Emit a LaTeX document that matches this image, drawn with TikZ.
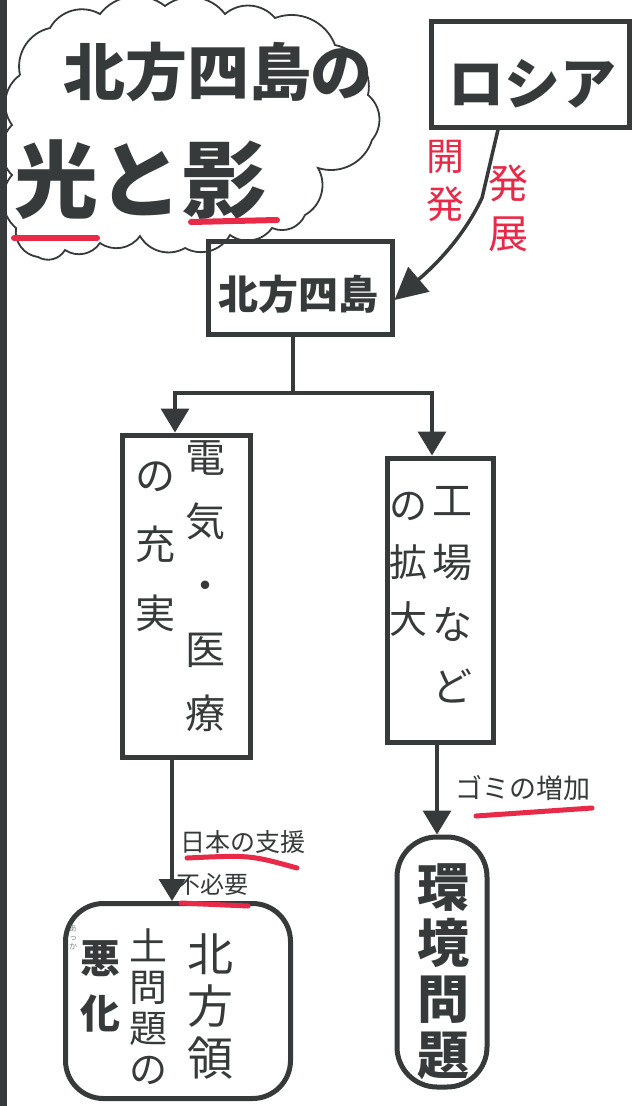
\documentclass[tikz,border=0pt]{standalone}
\usepackage{fontspec}
\newfontfamily\jp{Noto Sans CJK JP}
\usetikzlibrary{arrows.meta}
\definecolor{ink}{RGB}{55,58,58}
\definecolor{redpen}{RGB}{232,42,72}
\newcommand\fsz[2]{\fontsize{#1pt}{#2pt}\selectfont}
\begin{document}
\begin{tikzpicture}[x=1pt,y=-1pt,
  box/.style={draw=ink, line width=5pt, inner sep=0pt},
  conn/.style={draw=ink, line width=3.5pt},
  arr/.style={conn, -{Triangle[length=24pt,width=28pt]}},
  txt/.style={text=ink, inner sep=0pt, align=center},
  redtxt/.style={text=redpen, inner sep=0pt, align=center},
  uline/.style={draw=redpen, line width=5pt, line cap=round},
]
\useasboundingbox (0,0) rectangle (634,1106);
\fill[white] (0,0) rectangle (634,1106);
\fill[ink] (0,0) rectangle (7,1106);

% cloud
\draw[ink, line width=1.8pt]
  (20,75) to[bend left=45] (50,28) to[bend left=45] (100,14)
  to[bend left=45] (165,6) to[bend left=45] (225,14)
  to[bend left=45] (275,18) to[bend left=45] (335,45)
  to[bend left=45] (368,95) to[bend left=45] (372,140)
  to[bend left=45] (318,168) to[bend left=45] (305,215)
  to[bend left=45] (272,228) to[bend left=45] (230,235)
  to[bend left=45] (185,248) to[bend left=45] (140,236)
  to[bend left=45] (100,243) to[bend left=45] (65,250)
  to[bend left=45] (38,257) to[bend left=45] (16,228)
  to[bend left=45] (12,175) to[bend left=45] (12,125)
  to[bend left=45] (20,75);
\node[txt, font=\jp\bfseries\fsz{62}{70}] (title1) at (218,72) {北方四島の};
\node[txt, font=\jp\bfseries\fsz{84}{90}] (title2) at (140,180) {光と影};
\draw[uline, line width=6pt] (14,238) -- (97,238);
\draw[uline, line width=6pt] (191,222) -- (277,220);

% Russia
\node[box, minimum width=198pt, minimum height=106pt] (russia) at (530,74) {};
\node[txt, font=\jp\bfseries\fsz{56}{60}] (russiaT) at (532,84) {ロシア};

% Hoppo box
\node[box, minimum width=184pt, minimum height=93pt] (hoppo) at (300,288) {};
\node[txt, font=\jp\bfseries\fsz{40}{44}] (hoppoT) at (298,294) {北方四島};

% arrow Russia -> Hoppo
\draw[arr, -{Triangle[length=32pt,width=32pt]}]
  ([xshift=-32pt]russia.south) -- (482,198)
  .. controls (462,240) and (432,268) .. ([yshift=-12pt]hoppo.east);
\node[redtxt, font=\jp\fsz{38}{48}] (kaihatsu) at (445,181) {開\\発};
\node[redtxt, font=\jp\fsz{40}{50}] (hatten) at (508,208) {発\\展};

% split
\coordinate (split) at (293,393);
\draw[conn] (hoppo.south -| split) -- (split);

% left box
\node[box, minimum width=128pt, minimum height=322pt] (lbox) at (186,596) {};
\node[txt, font=\jp\fsz{40}{64}] (lcol1) at (205,586) {電\\気\\・\\医\\療};
\node[txt, font=\jp\fsz{40}{69}] (lcol2) at (155,547) {の\\充\\実};

% right box
\node[box, minimum width=106pt, minimum height=284pt] (rbox) at (440,600) {};
\node[txt, font=\jp\fsz{40}{62}] (rcol1) at (452,595) {工\\場\\な\\ど};
\node[txt, font=\jp\fsz{38}{57}] (rcol2) at (408,564) {の\\拡\\大};

\draw[arr] (split) -| ([xshift=-11pt]lbox.north);
\draw[arr] (split) -| ([xshift=-8pt]rbox.north);

% bottom-left box
\node[box, rounded corners=38pt, minimum width=225pt, minimum height=195pt] (blbox) at (178,1001) {};
\node[txt, font=\jp\fsz{46}{52}] (bcol1) at (210,1006) {北\\方\\領};
\node[txt, font=\jp\fsz{38}{41}] (bcol2) at (148,1007) {土\\問\\題\\の};
\node[txt, font=\jp\bfseries\fsz{40}{55}] (bcol3) at (100,986) {悪\\化};
\node[txt, font=\jp\fsz{8}{9}, text=ink!60] (ruby) at (73,937) {あ\\っ\\か};

\draw[arr, -{Triangle[length=22pt,width=26pt]}]
  ([xshift=-14pt]lbox.south) -- ([xshift=-14pt]lbox.south |- blbox.north);
\node[txt, font=\jp\fsz{25}{28}] (shien) at (243,842) {日本の支援};
\draw[uline] (187,858) .. controls (250,855) .. (297,868);
\node[txt, font=\jp\fsz{24}{26}] (fuhitsuyo) at (212,884) {不必要};
\draw[uline] (181,903) -- (248,906);

% environment box
\node[box, rounded corners=40pt, minimum width=90pt, minimum height=250pt] (ebox) at (442,962) {};
\node[txt, font=\jp\bfseries\fsz{52}{56}] (ecol) at (443,972) {環\\境\\問\\題};

\draw[arr] ([xshift=-3pt]rbox.south) -- ([xshift=-3pt]rbox.south |- ebox.north);
\node[txt, font=\jp\fsz{27}{30}] (gomi) at (523,788) {ゴミの増加};
\draw[uline] (476,816) -- (592,808);
\end{tikzpicture}
\end{document}
